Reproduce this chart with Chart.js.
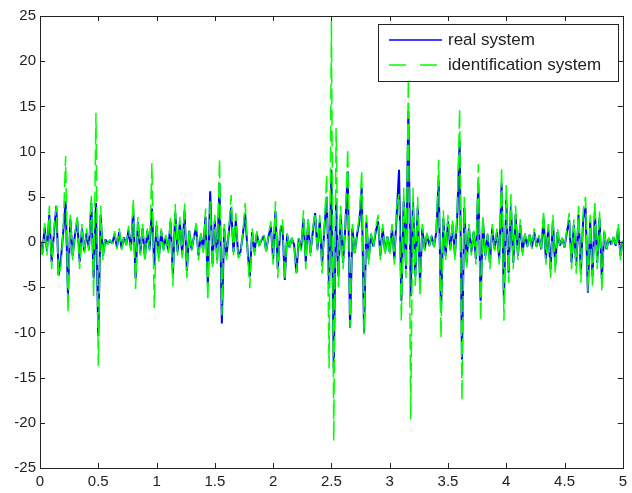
<!DOCTYPE html>
<html>
<head>
<meta charset="utf-8">
<script src="https://cdn.jsdelivr.net/npm/chart.js@4.4.1/dist/chart.umd.min.js"></script>
<style>
  html, body { margin: 0; background: #fff; }
  #wrap { width: 632px; height: 493px; position: relative; }
</style>
</head>
<body>
<div id="wrap"><canvas id="chart"></canvas></div>
<script>
  // sampled every 0.02 s, from 0 to 5
  const sampleStep = 0.02;

  const realSystem = [
    0.2, -1.2, 1.6, -1.0, 3.0, -2.2, 1.0, 4.0, -3.7, -1.8,
    1.2, 4.5, -5.9, 2.5, -1.5, 0.8, 2.4, -2.2, 1.5, -1.0,
    1.0, -0.8, 4.3, -4.0, 4.3, -10.4, 3.0, -1.5, 0.3, -0.2,
    0.2, -0.2, 0.9, -0.6, 1.1, -0.7, 0.5, -0.3, 1.3, -0.8,
    3.6, -4.0, 2.2, -1.2, 1.5, -1.7, 1.2, -0.8, 3.7, -2.6,
    1.8, -1.7, 1.2, -0.8, 0.6, -0.9, 2.2, -3.6, 3.2, -1.1,
    2.2, -1.4, 3.4, -3.2, 1.2, -0.8, 0.5, 1.6, -1.5, 0.8,
    -0.9, 2.8, -4.8, 5.6, -2.4, 2.4, -2.0, 6.5, -9.0, 1.5,
    -1.5, 1.1, 3.8, -1.1, 2.4, -1.4, -1.1, 0.8, 3.1, -0.8,
    -3.8, 1.1, -1.1, 0.9, -0.4, 0.2, 0.7, -1.0, 0.6, 1.7,
    -1.9, 3.4, -3.0, 1.1, 1.8, -4.2, 0.8, -0.6, 0.4, -0.3,
    -3.4, 0.4, -0.8, 2.6, -2.2, 2.1, -1.2, 1.1, 3.2, -0.8,
    2.3, -2.6, 1.5, 5.0, -5.1, 8.0, -14.0, 4.5, -3.8, 3.0,
    -2.3, 1.9, 7.8, -9.5, 1.5, -1.2, 0.8, 2.3, 6.0, -10.0,
    2.3, -1.9, 0.8, -0.5, 1.1, 2.3, -1.5, 1.5, -1.1, 0.6,
    -1.1, 1.5, -1.9, 3.0, 8.0, -6.5, 4.5, -3.0, 14.5, -6.0,
    4.5, -3.8, 3.8, -4.5, 1.5, -0.8, 0.8, -0.4, 0.6, -0.5,
    1.1, 6.8, -7.8, 2.6, -1.5, 2.3, -0.8, 1.9, -1.5, 3.0,
    11.2, -13.0, 3.8, -2.3, 1.5, -1.1, 1.1, -1.9, 6.5, -6.5,
    2.3, -1.5, 0.8, -2.3, 1.5, -0.8, 1.1, -1.9, 6.5, -6.5,
    4.7, -3.4, 4.0, -2.3, 3.0, -1.5, 1.9, -1.1, 0.8, -0.5,
    0.8, -0.6, 1.1, -0.5, 0.6, -0.8, 2.6, -1.9, 1.5, -3.0,
    2.3, -2.6, 1.1, -0.4, 0.4, -0.6, 1.1, 2.4, -2.3, 1.9,
    -2.6, 3.0, -3.4, 2.6, 3.8, -5.6, 2.3, -3.8, 3.4, -2.3,
    2.6, -4.1, 1.1, -0.8, 0.4, -0.3, 0.5, -0.4, 1.5, -1.5,
    0.1
  ];

  const identSystem = [
    0.3, -1.7, 2.1, -1.5, 4.0, -3.0, 1.5, 4.0, -3.7, -2.7,
    1.8, 9.5, -7.8, 3.0, -2.0, 1.0, 3.0, -3.0, 2.0, -1.2,
    1.5, -1.0, 5.2, -6.0, 14.3, -13.7, 4.0, -2.0, 0.4, -0.3,
    0.3, -0.2, 1.2, -0.8, 1.5, -0.9, 0.6, -0.4, 1.8, -1.0,
    4.8, -5.2, 2.8, -1.5, 2.0, -2.2, 1.5, -1.0, 8.7, -7.3,
    2.4, -2.2, 1.5, -1.0, 0.8, -1.2, 2.8, -4.9, 4.2, -1.5,
    2.8, -1.8, 4.3, -4.0, 1.5, -1.0, 0.6, 2.1, -2.0, 1.0,
    -1.2, 3.7, -6.5, 4.5, -3.0, 3.0, -2.5, 9.2, -8.1, 2.0,
    -2.0, 1.5, 5.2, -1.5, 3.2, -1.8, -1.4, 1.0, 4.3, -1.0,
    -5.1, 1.5, -1.5, 1.2, -0.5, 0.3, 0.9, -1.3, 0.8, 2.3,
    -2.5, 4.5, -4.0, 1.5, 2.5, -4.2, 1.0, -0.8, 0.5, -0.4,
    -3.5, 0.5, -1.0, 3.5, -3.0, 2.8, -1.6, 1.5, 3.2, -1.0,
    3.0, -3.5, 2.0, 7.5, -14.0, 24.5, -22.0, 12.6, -5.0, 4.0,
    -3.0, 2.5, 10.3, -9.5, 2.0, -1.5, 1.0, 3.0, 7.9, -10.2,
    3.0, -2.5, 1.0, -0.6, 1.5, 3.0, -2.0, 2.0, -1.5, 0.8,
    -1.5, 2.0, -2.5, 4.0, 5.3, -8.7, 6.0, -4.0, 18.0, -19.6,
    6.0, -5.0, 5.0, -6.0, 2.0, -1.0, 1.0, -0.5, 0.8, -0.6,
    1.5, 9.1, -10.6, 3.5, -2.0, 3.0, -1.0, 2.5, -2.0, 4.0,
    14.7, -17.5, 5.0, -3.0, 2.0, -1.5, 1.5, -2.5, 8.6, -8.7,
    3.0, -2.0, 1.0, -3.0, 2.0, -1.0, 1.5, -2.5, 8.2, -8.7,
    6.3, -4.5, 5.3, -3.0, 4.0, -2.0, 2.5, -1.5, 1.0, -0.6,
    1.0, -0.8, 1.5, -0.6, 0.8, -1.0, 3.5, -2.5, 2.0, -4.0,
    3.0, -3.5, 1.5, -0.5, 0.5, -0.8, 1.5, 3.2, -3.0, 2.5,
    -3.5, 4.0, -4.5, 3.5, 5.0, -5.5, 3.0, -5.0, 4.5, -3.0,
    3.5, -5.5, 1.5, -1.0, 0.5, -0.4, 0.6, -0.5, 2.0, -2.0,
    0.2
  ];

  const xTicks = [0, 0.5, 1, 1.5, 2, 2.5, 3, 3.5, 4, 4.5, 5];
  const xTickLabels = ["0", "0.5", "1", "1.5", "2", "2.5", "3", "3.5", "4", "4.5", "5"];
  const yTicks = [-25, -20, -15, -10, -5, 0, 5, 10, 15, 20, 25];
  const yTickLabels = ["-25", "-20", "-15", "-10", "-5", "0", "5", "10", "15", "20", "25"];

  const legendLabels = ["real system", "identification system"];
  const BLUE = "#0000ff";
  const GREEN = "#00ff00";
  const INK = "#222222";

  const toPoints = (values) => values.map((v, i) => ({ x: +(i * sampleStep).toFixed(2), y: v }));

  // MATLAB-style frame: box with inward ticks on all sides, plus the boxed legend
  const matlabFrame = {
    id: "matlabFrame",
    afterDraw(chart) {
      const { ctx, chartArea: a, scales } = chart;
      const tick = 5;
      ctx.save();
      ctx.strokeStyle = INK;
      ctx.lineWidth = 1;
      ctx.setLineDash([]);
      ctx.strokeRect(Math.round(a.left) + 0.5, Math.round(a.top) + 0.5,
        Math.round(a.right - a.left), Math.round(a.bottom - a.top));
      ctx.beginPath();
      xTicks.forEach((v) => {
        const px = Math.round(scales.x.getPixelForValue(v)) + 0.5;
        ctx.moveTo(px, a.bottom); ctx.lineTo(px, a.bottom - tick);
        ctx.moveTo(px, a.top); ctx.lineTo(px, a.top + tick);
      });
      yTicks.forEach((v) => {
        const py = Math.round(scales.y.getPixelForValue(v)) + 0.5;
        ctx.moveTo(a.left, py); ctx.lineTo(a.left + tick, py);
        ctx.moveTo(a.right, py); ctx.lineTo(a.right - tick, py);
      });
      ctx.stroke();

      // legend
      const box = { x: 378.5, y: 24.5, w: 240, h: 57 };
      ctx.fillStyle = "#ffffff";
      ctx.fillRect(box.x, box.y, box.w, box.h);
      ctx.strokeRect(box.x, box.y, box.w, box.h);
      const rows = [
        { y: 40, color: BLUE, dash: [], label: legendLabels[0] },
        { y: 65, color: GREEN, dash: [17, 14], label: legendLabels[1] }
      ];
      rows.forEach((r) => {
        ctx.beginPath();
        ctx.strokeStyle = r.color;
        ctx.lineWidth = 1.5;
        ctx.setLineDash(r.dash);
        ctx.moveTo(389, r.y);
        ctx.lineTo(442, r.y);
        ctx.stroke();
        ctx.setLineDash([]);
        ctx.fillStyle = INK;
        ctx.font = "17px 'Liberation Sans', Arial, sans-serif";
        ctx.textBaseline = "middle";
        ctx.textAlign = "left";
        ctx.fillText(r.label, 448, r.y);
      });
      ctx.restore();
    }
  };

  const tickFont = { family: "'Liberation Sans', Arial, sans-serif", size: 15 };

  new Chart(document.getElementById("chart"), {
    type: "line",
    data: {
      datasets: [
        {
          label: legendLabels[0],
          data: toPoints(realSystem),
          borderColor: BLUE,
          borderWidth: 2,
          pointRadius: 0,
          tension: 0,
          borderJoinStyle: "bevel",
          order: 1
        },
        {
          label: legendLabels[1],
          data: toPoints(identSystem),
          borderColor: GREEN,
          borderWidth: 1.5,
          borderDash: [16, 5],
          pointRadius: 0,
          tension: 0,
          borderJoinStyle: "bevel",
          order: 0
        }
      ]
    },
    options: {
      responsive: true,
      maintainAspectRatio: false,
      animation: false,
      layout: { padding: { top: 16, right: 8, left: 0, bottom: 0 } },
      plugins: {
        legend: { display: false },
        tooltip: { enabled: false }
      },
      scales: {
        x: {
          type: "linear",
          min: 0,
          max: 5,
          afterBuildTicks: (s) => { s.ticks = xTicks.map((v) => ({ value: v })); },
          afterFit: (s) => { s.height = 25; },
          ticks: {
            color: INK,
            font: tickFont,
            padding: 5,
            maxRotation: 0,
            autoSkip: false,
            callback: (v) => xTickLabels[xTicks.indexOf(v)]
          },
          grid: { display: false, drawTicks: false },
          border: { display: false }
        },
        y: {
          min: -25,
          max: 25,
          afterBuildTicks: (s) => { s.ticks = yTicks.map((v) => ({ value: v })); },
          afterFit: (s) => { s.width = 40; },
          ticks: {
            color: INK,
            font: tickFont,
            padding: 4,
            autoSkip: false,
            callback: (v) => yTickLabels[yTicks.indexOf(v)]
          },
          grid: { display: false, drawTicks: false },
          border: { display: false }
        }
      }
    },
    plugins: [matlabFrame]
  });
</script>
</body>
</html>
